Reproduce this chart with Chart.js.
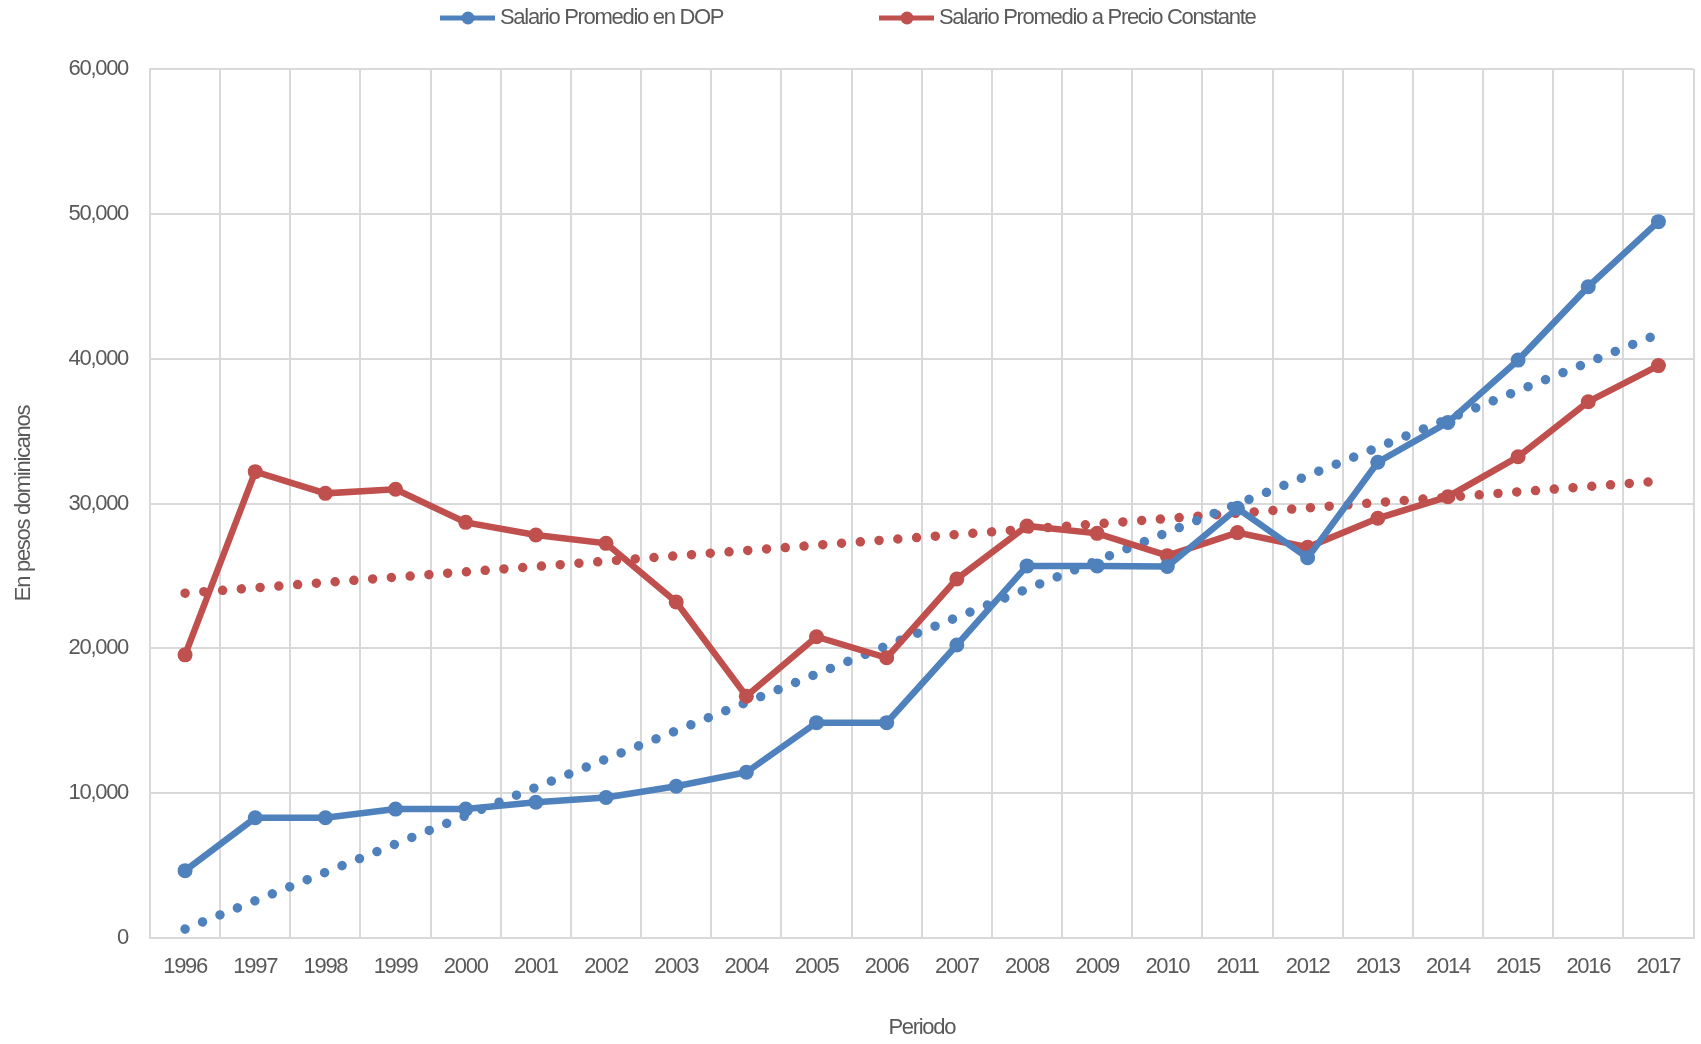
<!DOCTYPE html>
<html>
<head>
<meta charset="utf-8">
<script src="https://cdn.jsdelivr.net/npm/chart.js@4.4.1/dist/chart.umd.min.js"></script>
<style>
  html, body { margin: 0; padding: 0; background: #fff; }
</style>
</head>
<body>
<canvas id="salarioChart" width="1701" height="1044"></canvas>
<script>
const years = ['1996', '1997', '1998', '1999', '2000', '2001', '2002', '2003', '2004', '2005', '2006',
  '2007', '2008', '2009', '2010', '2011', '2012', '2013', '2014', '2015', '2016', '2017']

const salarioDop = [4650, 8300, 8300, 8900, 8900, 9370, 9700, 10480, 11440, 14870, 14870,
  20230, 25690, 25690, 25650, 29670, 26250, 32850, 35600, 39900, 44970, 49460]

const salarioConstante = [19550, 32200, 30700, 30980, 28700, 27830, 27250, 23200, 16700, 20800, 19350,
  24790, 28450, 27940, 26400, 27990, 26980, 28980, 30470, 33230, 37030, 39520]

// tendencia lineal: solo extremos
const tendenciaDop = [620, null, null, null, null, null, null, null, null, null, null,
  null, null, null, null, null, null, null, null, null, null, 41700]
const tendenciaConstante = [23810, null, null, null, null, null, null, null, null, null, null,
  null, null, null, null, null, null, null, null, null, null, 31540]

const blue = '#4f81bd'
const red = '#c0504d'
const grey = '#595959'
const gridColor = '#d9d9d9'
const fontFamily = '"Liberation Sans", Arial, sans-serif'
const narrow = '-1.3px' // imitar Arial Narrow

Chart.defaults.font.family = fontFamily
Chart.defaults.font.size = 22
Chart.defaults.color = grey

// texto mas estrecho en todo el canvas
const narrowText = {
  id: 'narrowText',
  beforeUpdate(chart) {
    chart.ctx.letterSpacing = narrow
  },
  beforeDraw(chart) {
    chart.ctx.letterSpacing = narrow
  },
}

// leyenda tipo Excel: linea con marcador
const legendLine = {
  id: 'legendLine',
  afterDraw(chart) {
    const { ctx } = chart
    const items = [
      { ds: 0, x: 440 },
      { ds: 1, x: 879 },
    ]
    const y = 18
    ctx.save()
    items.forEach(item => {
      const ds = chart.data.datasets[item.ds]
      ctx.strokeStyle = ds.borderColor
      ctx.fillStyle = ds.borderColor
      ctx.lineWidth = 5
      ctx.beginPath()
      ctx.moveTo(item.x, y)
      ctx.lineTo(item.x + 55, y)
      ctx.stroke()
      ctx.beginPath()
      ctx.arc(item.x + 28, y, 6.5, 0, Math.PI * 2)
      ctx.fill()
      ctx.fillStyle = grey
      ctx.font = '22px ' + fontFamily
      ctx.letterSpacing = narrow
      ctx.textBaseline = 'middle'
      ctx.textAlign = 'left'
      ctx.fillText(ds.label, item.x + 60, y)
    })
    ctx.restore()
  },
}

const serie = (label, data, color) => ({
  label,
  data,
  borderColor: color,
  backgroundColor: color,
  borderWidth: 6.5,
  pointRadius: 7.5,
  pointBorderWidth: 0,
  pointBackgroundColor: color,
  tension: 0,
})

const tendencia = (label, data, color) => ({
  label,
  data,
  borderColor: color,
  borderWidth: 9.5,
  borderDash: [0.01, 18.8],
  borderCapStyle: 'round',
  pointRadius: 0,
  spanGaps: true,
  tension: 0,
})

new Chart(document.getElementById('salarioChart'), {
  type: 'line',
  data: {
    labels: years,
    datasets: [
      serie('Salario Promedio en DOP', salarioDop, blue),
      serie('Salario Promedio a Precio Constante', salarioConstante, red),
      tendencia('Lineal (Salario Promedio en DOP)', tendenciaDop, blue),
      tendencia('Lineal (Salario Promedio a Precio Constante)', tendenciaConstante, red),
    ],
  },
  options: {
    responsive: false,
    animation: false,
    layout: {
      padding: { top: 69, left: 0, right: 1, bottom: 0 },
    },
    plugins: {
      legend: { display: false },
      tooltip: { enabled: false },
    },
    scales: {
      x: {
        offset: true,
        grid: { offset: true, color: gridColor, lineWidth: 2, drawTicks: false },
        border: { color: gridColor, width: 2 },
        ticks: { padding: 16, color: grey, maxRotation: 0, autoSkip: false },
        title: {
          display: true,
          text: 'Periodo',
          color: grey,
          padding: { top: 0, bottom: 3 },
        },
        afterFit: scale => {
          scale.height = 106
        },
      },
      y: {
        min: 0,
        max: 60000,
        grid: { color: gridColor, lineWidth: 2, drawTicks: false },
        border: { color: gridColor, width: 2 },
        ticks: {
          stepSize: 10000,
          padding: 22,
          color: grey,
          callback: value => value.toLocaleString('en-US'),
        },
        title: {
          display: true,
          text: 'En pesos dominicanos',
          color: grey,
          padding: { top: 11, bottom: 0 },
        },
        afterFit: scale => {
          scale.width = 150
        },
      },
    },
  },
  plugins: [narrowText, legendLine],
})
</script>
</body>
</html>
